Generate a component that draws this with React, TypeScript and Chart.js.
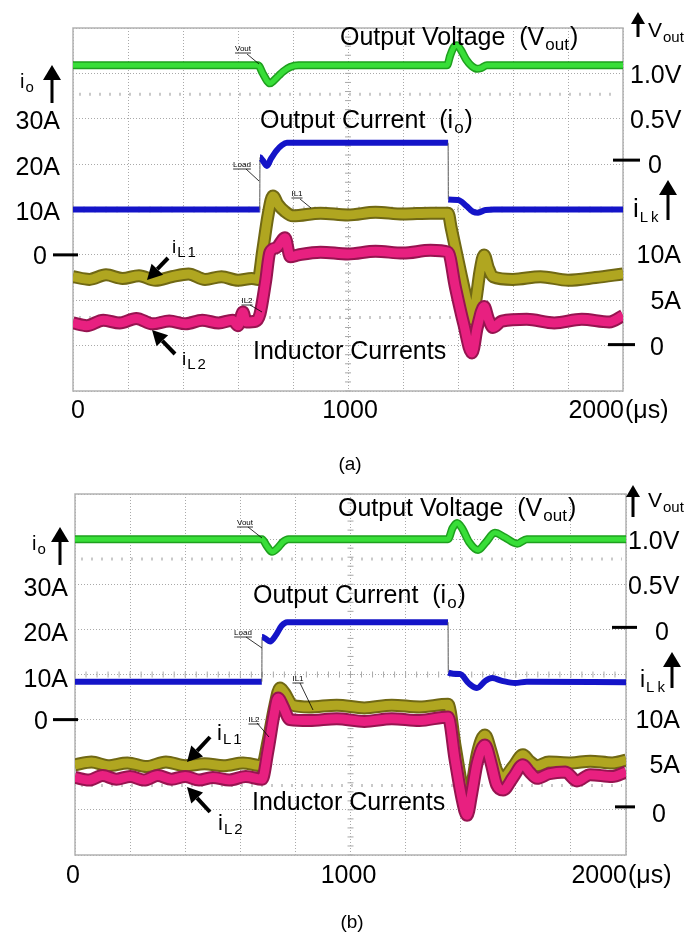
import React, { useEffect, useRef } from "react";
import { Chart, registerables } from "chart.js";

Chart.register(...registerables);

type Pt = [number, number];

// ---------- panel (a): time in µs; Vout in V; currents in A ----------
const vOutA: Pt[] = [
  [0, 1.09], [673, 1.09], [690, 1.0], [705, 0.92], [716, 0.89], [730, 0.92], [750, 0.98],
  [764, 1.02], [790, 1.07], [820, 1.09], [1360, 1.09], [1372, 1.2], [1385, 1.29], [1396, 1.31],
  [1410, 1.26], [1430, 1.15], [1450, 1.08], [1470, 1.05], [1485, 1.06], [1505, 1.09], [2000, 1.09],
];
const ioA: Pt[] = [
  [0, 10], [679, 10], [680, 21.5], [690, 20.8], [705, 19.6], [720, 21.2], [740, 23], [760, 24.2],
  [778, 24.7], [1364, 24.7], [1365, 12.2], [1400, 12.1], [1430, 10.8], [1455, 9.5], [1473, 9.3],
  [1500, 9.9], [1530, 10], [2000, 10],
];
const iL1A: Pt[] = [
  [0, 7.6], [60, 7.3], [120, 7.8], [180, 7.4], [240, 7.7], [300, 7.2], [360, 7.6], [420, 7.9],
  [480, 7.3], [540, 7.6], [600, 7.2], [650, 7.4], [673, 7.3], [690, 10.5], [710, 14.5], [727, 16.5],
  [745, 15.6], [770, 14.8], [800, 14.3], [900, 14.6], [1000, 14.4], [1100, 14.7], [1200, 14.5],
  [1300, 14.6], [1364, 14.6], [1375, 13], [1410, 8], [1440, 4], [1451, 2.9], [1465, 5], [1480, 8.2],
  [1495, 10], [1510, 8.6], [1527, 7.6], [1600, 7.3], [1700, 7.6], [1800, 7.2], [1900, 7.5], [2000, 7.9],
];
const iL2A: Pt[] = [
  [0, 2.5], [50, 2.2], [110, 2.8], [170, 2.5], [230, 3.0], [290, 2.4], [350, 2.7], [410, 2.4],
  [470, 2.8], [530, 2.5], [580, 2.8], [600, 2.2], [618, 3.7], [630, 2.6], [665, 2.7], [680, 3.5],
  [700, 7], [716, 10.3], [740, 10.8], [771, 11.9], [790, 9.8], [820, 10], [900, 10.3], [1000, 10.1],
  [1100, 10.4], [1200, 10.2], [1300, 10.5], [1364, 10.3], [1390, 6.5], [1420, 2.5], [1451, -0.8],
  [1470, 2], [1495, 4.3], [1510, 3], [1527, 2], [1560, 2.7], [1650, 2.9], [1750, 2.5], [1850, 2.9],
  [1950, 2.6], [2000, 3.3],
];

// ---------- panel (b) ----------
const vOutB: Pt[] = [
  [0, 1.0], [679, 1.0], [695, 0.93], [715, 0.86], [735, 0.9], [755, 0.97], [775, 1.0], [1354, 1.0],
  [1370, 1.12], [1387, 1.18], [1405, 1.12], [1430, 0.97], [1463, 0.88], [1490, 0.96], [1524, 1.07],
  [1560, 1.02], [1605, 0.95], [1640, 1.0], [2000, 1.0],
];
const ioB: Pt[] = [
  [0, 8.4], [678, 8.4], [679, 18.3], [690, 18.0], [708, 17.3], [730, 18.8], [750, 20.8], [770, 21.6],
  [1354, 21.6], [1355, 10.4], [1397, 10.1], [1430, 8.0], [1459, 7.0], [1490, 8.6], [1514, 9.2],
  [1550, 8.6], [1597, 8.1], [1640, 8.4], [2000, 8.3],
];
const iL1B: Pt[] = [
  [0, 5.0], [60, 5.3], [120, 4.9], [190, 5.2], [260, 4.8], [330, 5.3], [400, 4.9], [470, 5.1],
  [540, 4.9], [610, 5.2], [679, 4.9], [700, 7.5], [725, 11.5], [744, 13.5], [760, 13.0], [790, 11.6],
  [850, 11.4], [950, 11.6], [1050, 11.3], [1150, 11.6], [1250, 11.4], [1354, 11.7], [1380, 7],
  [1405, 2.5], [1423, 0], [1440, 2.5], [1460, 6.2], [1488, 8.3], [1510, 6.5], [1530, 4.4], [1554, 3.6],
  [1590, 4.8], [1626, 6.1], [1650, 5.4], [1677, 4.9], [1720, 5.3], [1800, 5.2], [1870, 5.4],
  [1950, 5.2], [2000, 5.5],
];
const iL2B: Pt[] = [
  [0, 3.6], [50, 3.3], [100, 3.8], [150, 3.4], [200, 3.7], [250, 3.3], [300, 3.8], [350, 3.4],
  [400, 3.7], [450, 3.3], [500, 3.6], [560, 3.3], [620, 3.7], [679, 3.4], [700, 6.5], [722, 10.5],
  [737, 12.4], [755, 11.5], [780, 10.0], [850, 9.9], [950, 10.1], [1050, 9.8], [1150, 10.1],
  [1250, 9.9], [1354, 10.3], [1380, 5.5], [1405, 1.2], [1423, -0.6], [1440, 1.8], [1460, 5.2],
  [1488, 7.2], [1510, 5.2], [1530, 2.8], [1554, 2.2], [1590, 3.6], [1626, 5.0], [1650, 4.2],
  [1677, 3.5], [1720, 4.0], [1780, 4.2], [1822, 3.2], [1870, 3.9], [1950, 3.7], [2000, 4.2],
];

// axis labels
const timeTicks = [0, 1000, 2000];
const ioTicks = [30, 20, 10];
const vOutTicks = [1.0, 0.5];
const iLTicks = [10, 5];

// cursor marker rows (inductor-current units)
const cursorA = [27.7, 3.1];
const cursorB = [27.8, 2.7];

// scope screen: 10 x 8 divisions
const TIME_MAX = 2000;
const TIME_DIV = 200;
const V_MIN = -2.5, V_MAX = 1.5;
const IO_MIN = -30, IO_MAX = 50;
const IL_MIN = -5, IL_MAX = 35, IL_DIV = 5;

const FONT = '"Liberation Sans", Arial, Helvetica, sans-serif';
const W = 688;

type Layout = any;

const layoutA: Layout = {
  top: 0, height: 480,
  pad: { left: 73, top: 28, right: 65, bottom: 89 },
  titleV: [340, 45], titleI: [260, 128], titleL: [253, 359],
  ioSym: { x: 20, base: 88, size: 20, arrowX: 52, top: 65, bottom: 103 },
  leftRight: 60, leftDy: 10.5, zeroRight: 47, zeroDy: 9, zeroDash: [53, 78],
  vSym: { arrowX: 638, top: 12, bottom: 37, x: 648, base: 37 },
  vLabelX: 630, vDy: 9.5, vZero: { x0: 613, x1: 640, tx: 648, dy: -4, tdy: 3 },
  lkSym: { x: 633, base: 217, size: 26, arrowX: 668, top: 180, bottom: 220 },
  lLabelRight: 681, lDy: 8.5, lZero: { x0: 608, x1: 635, tx: 650, dy: -1, tdy: 5 },
  xBase: 418, x0dx: 5, x1000dx: 2,
  caption: { text: "(a)", x: 350, base: 470 },
  ilSize: 19,
  il1: { x: 172, base: 253, from: [168, 258], to: [147, 280] },
  il2: { x: 182, base: 365, from: [175, 354], to: [152, 330] },
  notes: [
    { text: "Vout", cx: 243, base: 51, from: [247, 54], to: [259, 64] },
    { text: "Load", cx: 242, base: 167, from: [246, 169], to: [259, 181] },
    { text: "IL1", cx: 297, base: 196, from: [300, 199], to: [311, 208] },
    { text: "IL2", cx: 247, base: 303, from: [250, 305], to: [262, 312] },
  ],
};

const layoutB: Layout = {
  top: 469, height: 469,
  pad: { left: 75, top: 25, right: 62, bottom: 83 },
  titleV: [338, 47], titleI: [253, 134], titleL: [252, 341],
  ioSym: { x: 32, base: 81, size: 20, arrowX: 60, top: 58, bottom: 96 },
  leftRight: 68, leftDy: 12, zeroRight: 48, zeroDy: 9, zeroDash: [53, 78],
  vSym: { arrowX: 633, top: 16, bottom: 48, x: 648, base: 38 },
  vLabelX: 628, vDy: 9.5, vZero: { x0: 612, x1: 637, tx: 655, dy: -2, tdy: 5 },
  lkSym: { x: 640, base: 218, size: 23, arrowX: 672, top: 183, bottom: 219 },
  lLabelRight: 680, lDy: 8.5, lZero: { x0: 615, x1: 635, tx: 652, dy: -3, tdy: 8 },
  xBase: 414, x0dx: -2, x1000dx: -2,
  caption: { text: "(b)", x: 352, base: 459 },
  ilSize: 22,
  il1: { x: 217, base: 271, from: [210, 268], to: [187, 293] },
  il2: { x: 218, base: 361, from: [210, 343], to: [187, 318] },
  notes: [
    { text: "Vout", cx: 245, base: 56, from: [248, 58], to: [262, 69] },
    { text: "Load", cx: 243, base: 166, from: [246, 168], to: [262, 179] },
    { text: "IL1", cx: 298, base: 212, from: [300, 214], to: [313, 241] },
    { text: "IL2", cx: 254, base: 253, from: [257, 254], to: [269, 268] },
  ],
};

interface Panel {
  vOut: Pt[]; io: Pt[]; iL1: Pt[]; iL2: Pt[]; cursors: number[]; L: Layout;
}

const panels: Panel[] = [
  { vOut: vOutA, io: ioA, iL1: iL1A, iL2: iL2A, cursors: cursorA, L: layoutA },
  { vOut: vOutB, io: ioB, iL1: iL1B, iL2: iL2B, cursors: cursorB, L: layoutB },
];

// ---------- drawing helpers ----------
function txt(ctx: CanvasRenderingContext2D, s: string, x: number, y: number, size: number,
  align: CanvasTextAlign = "left", spacing = 0): number {
  ctx.font = `${size}px ${FONT}`;
  ctx.textAlign = align;
  ctx.textBaseline = "alphabetic";
  (ctx as any).letterSpacing = `${spacing}px`;
  ctx.fillText(s, x, y);
  const w = ctx.measureText(s).width;
  (ctx as any).letterSpacing = "0px";
  return w;
}

function txtSub(ctx: CanvasRenderingContext2D, main: string, sub: string, x: number, y: number,
  size: number, subSize: number, drop: number, tail = "", spacing = 0) {
  const w1 = txt(ctx, main, x, y, size);
  const w2 = txt(ctx, sub, x + w1 + 1, y + drop, subSize, "left", spacing);
  if (tail) txt(ctx, tail, x + w1 + w2 + 2, y, size);
}

function upArrow(ctx: CanvasRenderingContext2D, x: number, top: number, bottom: number,
  headLen = 15, half = 8, shaft = 3) {
  ctx.beginPath();
  ctx.moveTo(x, top);
  ctx.lineTo(x - half, top + headLen);
  ctx.lineTo(x + half, top + headLen);
  ctx.closePath();
  ctx.fill();
  ctx.fillRect(x - shaft / 2, top + headLen - 1, shaft, bottom - top - headLen + 1);
}

function lineArrow(ctx: CanvasRenderingContext2D, from: number[], to: number[]) {
  const [x0, y0] = from, [x1, y1] = to;
  const ang = Math.atan2(y1 - y0, x1 - x0);
  const len = 15, half = 8;
  const bx = x1 - len * Math.cos(ang), by = y1 - len * Math.sin(ang);
  ctx.lineWidth = 4;
  ctx.lineCap = "butt";
  ctx.beginPath();
  ctx.moveTo(x0, y0);
  ctx.lineTo(bx, by);
  ctx.stroke();
  ctx.beginPath();
  ctx.moveTo(x1, y1);
  ctx.lineTo(bx + half * Math.sin(ang), by - half * Math.cos(ang));
  ctx.lineTo(bx - half * Math.sin(ang), by + half * Math.cos(ang));
  ctx.closePath();
  ctx.fill();
}

function hDash(ctx: CanvasRenderingContext2D, x0: number, x1: number, y: number) {
  ctx.fillRect(x0, y - 1.5, x1 - x0, 3);
}

function drawScreen(chart: any, p: Panel) {
  const ctx: CanvasRenderingContext2D = chart.ctx;
  const { x, yL } = chart.scales;
  const a = chart.chartArea;
  ctx.save();
  // cursor marker rows
  ctx.strokeStyle = "#c9c9c9";
  ctx.lineWidth = 3;
  ctx.setLineDash([2, 8]);
  p.cursors.forEach((v) => {
    const y = yL.getPixelForValue(v);
    ctx.beginPath();
    ctx.moveTo(a.left + 6, y);
    ctx.lineTo(a.right - 4, y);
    ctx.stroke();
  });
  ctx.setLineDash([]);
  // minor ticks on the centre cross-hair
  ctx.strokeStyle = "#a9a9a9";
  ctx.lineWidth = 1;
  const cx = x.getPixelForValue(TIME_MAX / 2);
  const cy = yL.getPixelForValue(IL_MIN + 4 * IL_DIV);
  ctx.beginPath();
  for (let v = IL_MIN; v <= IL_MAX; v += IL_DIV / 5) {
    const y = yL.getPixelForValue(v);
    ctx.moveTo(cx - 3, y);
    ctx.lineTo(cx + 3, y);
  }
  for (let t = 0; t <= TIME_MAX; t += TIME_DIV / 5) {
    const xx = x.getPixelForValue(t);
    ctx.moveTo(xx, cy - 3);
    ctx.lineTo(xx, cy + 3);
  }
  ctx.stroke();
  // screen frame
  ctx.strokeStyle = "#b2b2b2";
  ctx.lineWidth = 1.5;
  ctx.strokeRect(a.left, a.top, a.right - a.left, a.bottom - a.top);
  ctx.restore();
}

function drawLabels(chart: any, p: Panel) {
  const ctx: CanvasRenderingContext2D = chart.ctx;
  const { x, yV, yI, yL } = chart.scales;
  const L = p.L;
  ctx.save();
  ctx.fillStyle = "#000";
  ctx.strokeStyle = "#000";

  // trace titles
  txtSub(ctx, "Output Voltage  (V", "out", L.titleV[0], L.titleV[1], 25, 17, 5, ")");
  txtSub(ctx, "Output Current  (i", "o", L.titleI[0], L.titleI[1], 25, 17, 5, ")");
  txt(ctx, "Inductor Currents", L.titleL[0], L.titleL[1], 25);

  // left: output current scale
  txtSub(ctx, "i", "o", L.ioSym.x, L.ioSym.base, L.ioSym.size, 15, 4);
  upArrow(ctx, L.ioSym.arrowX, L.ioSym.top, L.ioSym.bottom, 15, 9, 3);
  ioTicks.forEach((v) => txt(ctx, `${v}A`, L.leftRight, yI.getPixelForValue(v) + L.leftDy, 25, "right"));
  const i0 = yI.getPixelForValue(0);
  txt(ctx, "0", L.zeroRight, i0 + L.zeroDy, 25, "right");
  hDash(ctx, L.zeroDash[0], L.zeroDash[1], i0);

  // right: output voltage scale
  upArrow(ctx, L.vSym.arrowX, L.vSym.top, L.vSym.bottom, 12, 7, 3);
  txtSub(ctx, "V", "out", L.vSym.x, L.vSym.base, 21, 15, 5);
  vOutTicks.forEach((v) => txt(ctx, `${v.toFixed(1)}V`, L.vLabelX, yV.getPixelForValue(v) + L.vDy, 25));
  const v0 = yV.getPixelForValue(0);
  hDash(ctx, L.vZero.x0, L.vZero.x1, v0 + L.vZero.dy);
  txt(ctx, "0", L.vZero.tx, v0 + L.vZero.tdy + 6, 25);

  // right: inductor current scale
  txtSub(ctx, "i", "Lk", L.lkSym.x, L.lkSym.base, L.lkSym.size, 15, 5, "", 3);
  upArrow(ctx, L.lkSym.arrowX, L.lkSym.top, L.lkSym.bottom, 15, 9, 3);
  iLTicks.forEach((v) => txt(ctx, `${v}A`, L.lLabelRight, yL.getPixelForValue(v) + L.lDy, 25, "right"));
  const l0 = yL.getPixelForValue(0);
  hDash(ctx, L.lZero.x0, L.lZero.x1, l0 + L.lZero.dy);
  txt(ctx, "0", L.lZero.tx, l0 + L.lZero.tdy + 4, 25);

  // time axis
  const [t0, t1, t2] = timeTicks;
  txt(ctx, `${t0}`, x.getPixelForValue(t0) + L.x0dx, L.xBase, 25, "center");
  txt(ctx, `${t1}`, x.getPixelForValue(t1) + L.x1000dx, L.xBase, 25, "center");
  txt(ctx, `${t2}`, x.getPixelForValue(t2) + 1, L.xBase, 25, "right");
  txt(ctx, "(\u03bcs)", x.getPixelForValue(t2) + 2, L.xBase, 25, "left");

  // caption
  txt(ctx, L.caption.text, L.caption.x, L.caption.base, 19, "center");

  // inductor current call-outs
  txtSub(ctx, "i", "L1", L.il1.x, L.il1.base, L.ilSize, 15, 4, "", 2);
  lineArrow(ctx, L.il1.from, L.il1.to);
  txtSub(ctx, "i", "L2", L.il2.x, L.il2.base, L.ilSize, 15, 4, "", 2);
  lineArrow(ctx, L.il2.from, L.il2.to);

  // small channel annotations
  ctx.lineWidth = 0.8;
  L.notes.forEach((n: any) => {
    const w = txt(ctx, n.text, n.cx, n.base, 8, "center");
    ctx.beginPath();
    ctx.moveTo(n.cx - w / 2, n.base + 2);
    ctx.lineTo(n.cx + w / 2, n.base + 2);
    ctx.moveTo(n.from[0], n.from[1]);
    ctx.lineTo(n.to[0], n.to[1]);
    ctx.stroke();
  });
  ctx.restore();
}

// ---------- chart ----------
const toXY = (pts: Pt[]) => pts.map(([t, v]) => ({ x: t, y: v }));
const isStep = (c: any) =>
  Math.abs(c.p1.x - c.p0.x) < 2 && Math.abs(c.p1.y - c.p0.y) > 12;

function trace(label: string, pts: Pt[], axis: string, color: string, width: number, order: number, extra: any = {}) {
  return {
    label, data: toXY(pts), yAxisID: axis, borderColor: color, borderWidth: width,
    pointRadius: 0, fill: false, cubicInterpolationMode: "monotone", order, ...extra,
  };
}

function makeConfig(p: Panel): any {
  const gridOpts = { color: "rgba(140,140,140,0.75)", lineWidth: 1, drawTicks: false };
  const borderOpts = { display: false, dash: [1, 2] };
  return {
    type: "line",
    data: {
      datasets: [
        trace("io", p.io, "yI", "#1414c8", 6, 0, {
          segment: {
            borderWidth: (c: any) => (isStep(c) ? 1 : undefined),
            borderColor: (c: any) => (isStep(c) ? "#555" : undefined),
          },
        }),
        trace("iL2", p.iL2, "yL", "rgb(232,32,128)", 9, 1),
        trace("iL2 edge", p.iL2, "yL", "rgb(150,20,80)", 13, 2),
        trace("iL1", p.iL1, "yL", "rgb(176,166,32)", 9, 3),
        trace("iL1 edge", p.iL1, "yL", "rgb(112,104,20)", 13, 4),
        trace("Vout", p.vOut, "yV", "rgb(56,222,56)", 5, 5),
        trace("Vout edge", p.vOut, "yV", "rgb(30,160,30)", 8, 6),
      ],
    },
    options: {
      animation: false,
      responsive: false,
      maintainAspectRatio: false,
      devicePixelRatio: 1,
      events: [],
      layout: { padding: p.L.pad },
      plugins: { legend: { display: false }, tooltip: { enabled: false } },
      scales: {
        x: {
          type: "linear", min: 0, max: TIME_MAX,
          ticks: { display: false, stepSize: TIME_DIV },
          grid: gridOpts, border: borderOpts,
        },
        yL: {
          type: "linear", position: "left", min: IL_MIN, max: IL_MAX,
          ticks: { display: false, stepSize: IL_DIV },
          grid: gridOpts, border: borderOpts,
        },
        yV: { type: "linear", display: false, min: V_MIN, max: V_MAX },
        yI: { type: "linear", display: false, min: IO_MIN, max: IO_MAX },
      },
    },
    plugins: [
      {
        id: "scopeDecor",
        beforeDatasetsDraw: (chart: any) => drawScreen(chart, p),
        afterDatasetsDraw: (chart: any) => drawLabels(chart, p),
      },
    ],
  };
}

function ScopePanel({ panel }: { panel: Panel }) {
  const ref = useRef<HTMLCanvasElement>(null);
  const h = panel.L.height;
  useEffect(() => {
    if (!ref.current) return;
    const chart = new Chart(ref.current, makeConfig(panel));
    return () => chart.destroy();
  }, [panel]);
  return (
    <canvas
      ref={ref}
      width={W}
      height={h}
      style={{ position: "absolute", left: 0, top: panel.L.top, display: "block", width: W, height: h }}
    />
  );
}

export default function App() {
  return (
    <div style={{ position: "absolute", left: 0, top: 0, width: 688, height: 938, background: "#fff" }}>
      {panels.map((p, i) => (
        <ScopePanel key={i} panel={p} />
      ))}
    </div>
  );
}
